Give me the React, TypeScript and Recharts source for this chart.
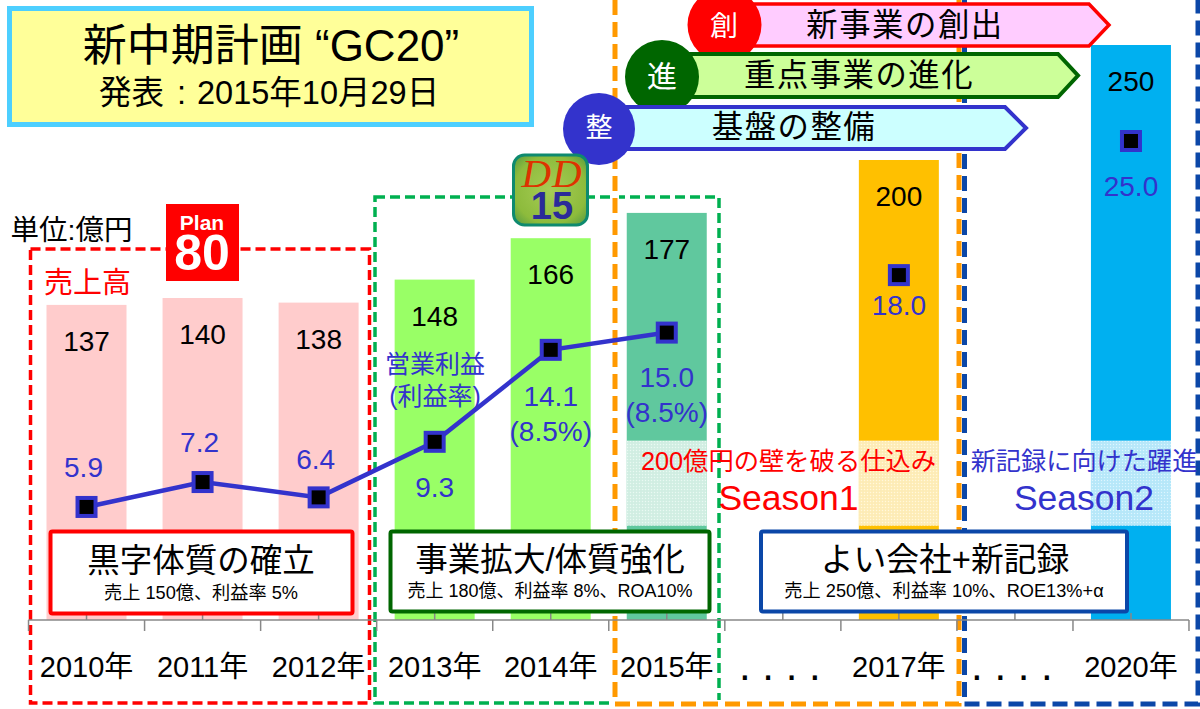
import React from "react";
import { ComposedChart, Bar, Line, XAxis, YAxis, LabelList } from "recharts";

const FONT = "'Liberation Sans','Noto Sans CJK JP',sans-serif";
const BLUE = "#3333CC";

const categories = ["2010年", "2011年", "2012年", "2013年", "2014年", "2015年", ". . . .", "2017年", ". . . .", "2020年"];
const sales = [137, 140, 138, 148, 166, 177, null, 200, null, 250];
const profit = [5.9, 7.2, 6.4, 9.3, 14.1, 15.0, null, 18.0, null, 25.0];
const rates = ["", "", "", "", "(8.5%)", "(8.5%)", "", "", "", ""];
const barColors = ["#FFCCCC", "#FFCCCC", "#FFCCCC", "#99FF66", "#99FF66", "#60C89E", "", "#FFC000", "", "#00B0F0"];
const bandBars = [false, false, false, false, false, true, false, true, false, true];
const BAND_LOW = 41;
const BAND_HIGH = 78;
// vertical placement of each profit label relative to its marker
const profitLabelDy = [-39, -40, -38, 46, 47, 45, 0, 30, 0, 45];
const profitLabelDx = [-3, -3, -3, 0, 0, 0, 0, 0, 0, 0];

const data = categories.map((c, i) => ({ c, sales: sales[i], profit: profit[i], i }));

function BarShape(props: any) {
  const { x, y, width, height, payload } = props;
  if (!height) return null;
  const k = payload.i as number;
  const pxPerUnit = height / payload.sales;
  const top = y + height - BAND_HIGH * pxPerUnit;
  const bh = (BAND_HIGH - BAND_LOW) * pxPerUnit;
  return (
    <g>
      <rect x={x} y={y} width={width} height={height} fill={barColors[k]} />
      {bandBars[k] && (
        <>
          <rect x={x} y={top} width={width} height={bh} fill="#ffffff" fillOpacity={0.72} />
          <rect x={x} y={top} width={width} height={bh} fill="url(#bandDots)" />
        </>
      )}
    </g>
  );
}

function SalesLabel(props: any) {
  const { x, y, width, value } = props;
  if (value == null) return null;
  return (
    <text x={x + width / 2} y={y + 36.5} textAnchor="middle" dominantBaseline="central" fontSize={28} fill="#000" fontFamily={FONT}>
      {value}
    </text>
  );
}

function ProfitLabel(props: any) {
  const { x, y, value } = props;
  if (value == null) return null;
  const k = profit.indexOf(value);
  const cy = y + profitLabelDy[k];
  return (
    <g fontFamily={FONT} fontSize={28} fill={BLUE} textAnchor="middle">
      <text x={x + profitLabelDx[k]} y={cy} dominantBaseline="central">{value.toFixed(1)}</text>
      {rates[k] && <text x={x} y={cy + 35} dominantBaseline="central">{rates[k]}</text>}
    </g>
  );
}

function Marker(props: any) {
  const { cx, cy, value, index } = props;
  if (value == null || cy == null) return <g key={index} />;
  return <rect key={index} x={cx - 9} y={cy - 9} width={18} height={18} fill="#000" stroke={BLUE} strokeWidth={4} />;
}

function Tick(props: any) {
  const { x, index, payload } = props;
  const Y = 620;
  const half = 58;
  const label = payload.value as string;
  const dots = label.startsWith(".");
  return (
    <g>
      <line x1={x} x2={x} y1={Y - 7} y2={Y} stroke="#888" strokeWidth={1.5} />
      <line x1={x - half} x2={x - half} y1={Y} y2={Y + 11} stroke="#888" strokeWidth={1.5} />
      {index === categories.length - 1 && <line x1={x + half} x2={x + half} y1={Y} y2={Y + 11} stroke="#888" strokeWidth={1.5} />}
      {dots ? (
        <text x={x - 3} y={680} textAnchor="middle" fontSize={42} fill="#000" fontFamily={FONT}>{label}</text>
      ) : (
        <text x={x} y={667} textAnchor="middle" dominantBaseline="central" fontSize={29} fill="#000" fontFamily={FONT}>{label}</text>
      )}
    </g>
  );
}

function T(p: any) {
  const { x, y, s, c = "#000", w, ls, children, anchor = "middle", fam = FONT, st } = p;
  return (
    <text x={x} y={y} fontSize={s} fill={c} fontWeight={w} letterSpacing={ls} textAnchor={anchor} dominantBaseline="central" fontFamily={fam} fontStyle={st}>
      {children}
    </text>
  );
}

function Chevron({ l, r, sh, t, b, fill, stroke, sw }: any) {
  return (
    <polygon points={`${l},${t} ${sh},${t} ${r},${(t + b) / 2} ${sh},${b} ${l},${b}`} fill={fill} stroke={stroke} strokeWidth={sw} />
  );
}

function Frames() {
  return (
    <svg width={1200} height={709} style={{ position: "absolute", left: 0, top: 0, pointerEvents: "none" }}>
      <rect x={30.5} y={249} width={339} height={454} fill="none" stroke="#FF0000" strokeWidth={3.5} strokeDasharray="10 5" />
      <rect x={375} y={197} width={344} height={506} fill="none" stroke="#00B050" strokeWidth={3.5} strokeDasharray="10 5" />
      <path d="M615,0 V704 H959 V0" fill="none" stroke="#FFFFFF" strokeWidth={8} />
      <path d="M615,0 V704 H959 V0" fill="none" stroke="#FF9900" strokeWidth={5} strokeDasharray="15 7" />
      <path d="M964.5,0 V704 H1198 V0" fill="none" stroke="#0B47A8" strokeWidth={5} strokeDasharray="15 7" />
    </svg>
  );
}

function Overlay() {
  return (
    <svg width={1200} height={709} style={{ position: "absolute", left: 0, top: 0, pointerEvents: "none" }}>
      <defs>
        <radialGradient id="ddFill" cx="0.5" cy="0.5" r="0.65">
          <stop offset="0" stopColor="#A6CC55" />
          <stop offset="0.75" stopColor="#8DBB3C" />
          <stop offset="1" stopColor="#5FA040" />
        </radialGradient>
      </defs>

      {/* title */}
      <rect x={9.5} y={8.5} width={522} height={116} fill="#FFFF99" stroke="#4DCFFF" strokeWidth={5} />
      <T x={271} y={45} s={44}>新中期計画 “GC20”</T>
      <text x={99} y={93} fontSize={32.5} fill="#000" dominantBaseline="central" fontFamily={FONT}>
        発表<tspan dx={13}>:</tspan><tspan dx={11}>2015年10月29日</tspan>
      </text>

      {/* axis captions */}
      <T x={71.5} y={230} s={28.5}>単位:億円</T>
      <T x={87.5} y={283} s={29} c="#FF0000">売上高</T>

      {/* Plan 80 */}
      <rect x={166} y={204} width={73} height={77} fill="#FF0000" />
      <T x={202} y={222} s={21} c="#fff" w="bold">Plan</T>
      <T x={202} y={253} s={50} c="#fff" w="bold">80</T>

      {/* chevrons */}
      <Chevron l={700} r={1109} sh={1089} t={4} b={46} fill="#FFCCFF" stroke="#FF0000" sw={3.5} />
      <ellipse cx={724.5} cy={25} rx={37} ry={37} fill="#FF0000" />
      <T x={724} y={26} s={28} c="#fff">創</T>
      <T x={905} y={25} s={31.4} ls={1.5}>新事業の創出</T>

      <Chevron l={640} r={1078} sh={1058} t={54} b={97} fill="#CCFF99" stroke="#006600" sw={4} />
      <ellipse cx={662} cy={77} rx={37} ry={37} fill="#006600" />
      <T x={662} y={76} s={30} c="#fff">進</T>
      <T x={859} y={75} s={31.4} ls={1.5}>重点事業の進化</T>

      <Chevron l={590} r={1026} sh={1005} t={107} b={149} fill="#CCFFFF" stroke={BLUE} sw={4} />
      <ellipse cx={599} cy={129} rx={36} ry={36} fill={BLUE} />
      <T x={599} y={128} s={27} c="#fff">整</T>
      <T x={794} y={127} s={31.4} ls={1.5}>基盤の整備</T>

      {/* DD15 */}
      <rect x={513.5} y={155} width={74} height={70} rx={11} fill="url(#ddFill)" stroke="#0E8A6F" strokeWidth={3} />
      <T x={552} y={173} s={41} c="#DD3300" st="italic" fam="'Liberation Serif',serif" ls={1}>DD</T>
      <T x={552} y={206} s={38} c="#2B2B99" w="bold">15</T>

      {/* profit caption */}
      <T x={435} y={364} s={25} c={BLUE}>営業利益</T>
      <T x={435} y={396} s={25} c={BLUE}>(利益率)</T>

      {/* seasons */}
      <T x={788.5} y={461} s={25.3} c="#FF0000">200億円の壁を破る仕込み</T>
      <T x={788.5} y={498} s={35.5} c="#FF0000">Season1</T>
      <T x={1084} y={461} s={25.2} c={BLUE}>新記録に向けた躍進</T>
      <T x={1084} y={498} s={35.5} c={BLUE}>Season2</T>

      {/* target boxes */}
      <rect x={50.5} y={531.5} width={302} height={82} rx={2} fill="#fff" stroke="#FF0000" strokeWidth={4} />
      <T x={201} y={561} s={32.5}>黒字体質の確立</T>
      <T x={201} y={593} s={18.2}>売上 150億、利益率 5%</T>

      <rect x={390.5} y={531.5} width={319} height={80} rx={2} fill="#fff" stroke="#006600" strokeWidth={4} />
      <T x={550} y={559} s={32.6}>事業拡大/体質強化</T>
      <T x={550} y={591} s={18}>売上 180億、利益率 8%、ROA10%</T>

      <rect x={761} y={531.5} width={366} height={80} rx={2} fill="#fff" stroke="#0B47A8" strokeWidth={4} />
      <T x={945} y={559} s={32.8}>よい会社+新記録</T>
      <T x={944} y={591} s={18.2}>売上 250億、利益率 10%、ROE13%+α</T>
    </svg>
  );
}

export default function App() {
  return (
    <div style={{ position: "absolute", left: 0, top: 0, width: 1200, height: 709, overflow: "hidden", background: "#fff" }}>
      <Frames />
      <ComposedChart width={1200} height={709} data={data} margin={{ top: 20, right: 11, bottom: 0, left: 28.5 }} barSize={80}>
        <defs>
          <pattern id="bandDots" width="3" height="3" patternUnits="userSpaceOnUse">
            <rect x="0" y="0" width="1" height="1" fill="#ffffff" fillOpacity="0.55" />
            <rect x="1.5" y="1.5" width="1" height="1" fill="#888888" fillOpacity="0.1" />
          </pattern>
        </defs>
        <XAxis
          dataKey="c"
          height={89}
          tickSize={0}
          tickMargin={0}
          tick={Tick}
          interval={0}
          tickLine={false}
          axisLine={{ stroke: "#888", strokeWidth: 1.5 }}
        />
        <YAxis yAxisId="sales" hide domain={[0, 600 / 2.3]} />
        <YAxis yAxisId="profit" hide orientation="right" domain={[0, 600 / 19.16]} />
        <Bar yAxisId="sales" dataKey="sales" shape={BarShape} isAnimationActive={false}>
          <LabelList dataKey="sales" content={SalesLabel} />
        </Bar>
        <Line
          yAxisId="profit"
          dataKey="profit"
          stroke={BLUE}
          strokeWidth={4.5}
          dot={Marker}
          activeDot={false}
          type="linear"
          isAnimationActive={false}
        >
          <LabelList dataKey="profit" content={ProfitLabel} />
        </Line>
      </ComposedChart>
      <Overlay />
    </div>
  );
}
